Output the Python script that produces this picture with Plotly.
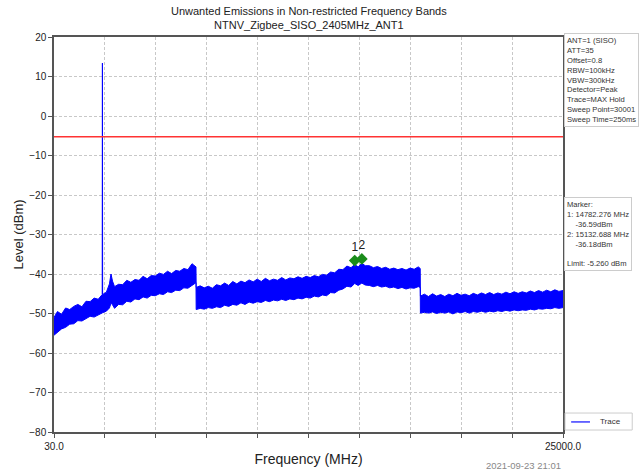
import plotly.graph_objects as go

# ---- spectrum envelope (MAX hold): frequency and the upper / lower edge of the trace ----
freq_mhz = [
    30, 200, 400, 600, 800, 1000, 1200, 1400, 1600, 1800, 2000, 2200, 2395, 2405, 2415,
    2600, 2750, 2826, 2900, 3000, 3200, 3400, 3600, 3800, 4000, 4200, 4400, 4600, 4800,
    5000, 5200, 5400, 5600, 5800, 6000, 6200, 6400, 6600, 6800, 6995,
    7005, 7200, 7400, 7600, 7800, 8000, 8200, 8400, 8600, 8800, 9000, 9200, 9400, 9600,
    9800, 10000, 10200, 10400, 10600, 10800, 11000, 11200, 11400, 11600, 11800, 12000,
    12200, 12400, 12600, 12800, 13000, 13200, 13400, 13600, 13800, 14000, 14200, 14400,
    14600, 14782.276, 14950, 15132.688, 15300, 15500, 15700, 15900, 16100, 16300, 16500,
    16700, 16900, 17100, 17300, 17500, 17700, 17900, 17995,
    18005, 18200, 18400, 18600, 18800, 19000, 19200, 19400, 19600, 19800, 20000, 20200,
    20400, 20600, 20800, 21000, 21200, 21400, 21600, 21800, 22000, 22200, 22400, 22600,
    22800, 23000, 23200, 23400, 23600, 23800, 24000, 24200, 24400, 24600, 24800, 25000,
]
upper_dbm = [
    -51.0, -49.5, -50.2, -48.6, -49.0, -48.2, -47.7, -48.3, -46.9, -47.0, -46.1, -46.4, -45.2, 13.4, -45.2,
    -44.6, -42.5, -40.0, -41.8, -43.2, -42.6, -42.7, -41.6, -42.1, -41.4, -41.6, -40.6, -41.2, -40.4,
    -40.5, -39.8, -40.1, -39.3, -39.9, -39.1, -39.3, -38.6, -38.9, -37.4, -38.2,
    -43.4, -43.0, -43.5, -43.1, -43.6, -42.7, -43.0, -42.3, -42.9, -41.9, -42.5, -41.8, -42.2, -41.5,
    -42.0, -41.3, -41.9, -41.1, -41.7, -41.3, -41.6, -40.9, -41.5, -41.0, -41.2, -40.7,
    -41.1, -40.6, -40.9, -40.4, -40.7, -40.1, -40.3, -39.5, -39.7, -38.8, -38.9, -38.0,
    -38.4, -37.6, -38.2, -37.3, -37.9, -37.9, -38.4, -38.1, -38.6, -38.3, -38.8,
    -38.5, -38.9, -38.6, -39.0, -38.5, -38.8, -38.2, -38.6,
    -45.6, -45.1, -45.7, -45.0, -45.6, -45.2, -45.7, -45.1, -45.5, -44.9, -45.4, -45.1,
    -45.5, -44.9, -45.3, -44.8, -45.2, -44.7, -45.2, -44.8, -45.1, -44.6, -45.0, -44.5,
    -44.9, -44.5, -44.8, -44.3, -44.7, -44.2, -44.6, -44.1, -44.5, -44.0, -44.4, -44.2,
]
lower_dbm = [
    -55.5, -54.8, -53.9, -53.5, -52.7, -52.6, -51.8, -51.9, -51.2, -50.7, -50.9, -50.3, -49.8, -49.8, -49.8,
    -49.4, -48.6, -47.4, -47.8, -48.7, -47.7, -47.8, -46.9, -47.1, -46.3, -46.5, -45.8, -46.1, -45.4,
    -45.5, -45.0, -45.2, -44.5, -44.7, -44.1, -44.2, -43.5, -43.6, -42.8, -42.2,
    -49.0, -48.7, -48.9, -48.5, -48.7, -48.3, -48.5, -47.9, -48.2, -47.7, -47.9, -47.3, -47.7, -47.1,
    -47.4, -47.0, -47.2, -46.7, -47.0, -46.6, -46.8, -46.4, -46.7, -46.3, -46.5, -46.1,
    -46.3, -45.9, -46.1, -45.6, -45.8, -45.3, -45.5, -44.7, -44.8, -44.1, -43.8, -43.1,
    -43.3, -42.4, -42.9, -42.3, -42.8, -42.9, -43.2, -42.9, -43.3, -43.1, -43.5,
    -43.3, -43.7, -43.4, -43.8, -43.5, -43.6, -43.2, -43.4,
    -49.9, -49.7, -49.9, -49.6, -50.0, -49.7, -49.9, -49.6, -50.1, -49.6, -49.8, -49.5,
    -49.9, -49.5, -49.7, -49.4, -49.7, -49.4, -49.6, -49.3, -49.5, -49.2, -49.4, -49.1,
    -49.3, -49.1, -49.2, -48.9, -49.1, -48.8, -48.9, -48.7, -48.8, -48.5, -48.7, -48.5,
]

# ---- markers and limit ----
marker_ids = ["1", "2"]
marker_freq = [14782.276, 15132.688]
marker_level = [-36.59, -36.18]
limit_dbm = -5.260

# ---- axes ----
f_start, f_stop = 30.0, 25000.0
x_tickvals = [30.0, 2527.0, 5024.0, 7521.0, 10018.0, 12515.0, 15012.0, 17509.0, 20006.0, 22503.0, 25000.0]
x_ticktext = ["30.0", "", "", "", "", "", "", "", "", "", "25000.0"]
y_tickvals = [20, 10, 0, -10, -20, -30, -40, -50, -60, -70, -80]

settings = ["ANT=1 (SISO)", "ATT=35", "Offset=0.8", "RBW=100kHz", "VBW=300kHz",
            "Detector=Peak", "Trace=MAX Hold", "Sweep Point=30001", "Sweep Time=250ms"]
timestamp = "2021-09-23 21:01"
trace_name = "Trace"

FONT = "Liberation Sans, Arial, sans-serif"
BLUE = "#0000ff"

fig = go.Figure()

fig.add_trace(go.Scatter(x=freq_mhz, y=lower_dbm, mode="lines", name=trace_name,
                         line=dict(color=BLUE, width=1.0), showlegend=False))
fig.add_trace(go.Scatter(x=freq_mhz, y=upper_dbm, mode="lines", fill="tonexty", name=trace_name,
                         fillcolor=BLUE, line=dict(color=BLUE, width=1.0), showlegend=False))

fig.add_trace(go.Scatter(x=[f_start, f_stop], y=[limit_dbm, limit_dbm], mode="lines",
                         line=dict(color="#ff3333", width=1.5), showlegend=False))

fig.add_trace(go.Scatter(x=marker_freq, y=marker_level, mode="markers+text",
                         text=marker_ids, textposition="top center",
                         textfont=dict(size=12, color="#222", family=FONT),
                         marker=dict(symbol="diamond", size=9, color="#1a8c1a"),
                         showlegend=False))

axis_common = dict(showline=True, mirror=True, linecolor="#555", linewidth=1.5,
                   ticks="outside", ticklen=4, tickcolor="#555", tickwidth=1.2,
                   showgrid=True, gridcolor="#c8c8c8", griddash="3px,2px", gridwidth=1,
                   zeroline=False, automargin=False,
                   tickfont=dict(size=10, color="#222", family=FONT))

fig.update_xaxes(range=[f_start, f_stop], tickvals=x_tickvals, ticktext=x_ticktext,
                 title=dict(text="Frequency (MHz)", font=dict(size=14, color="#222", family=FONT),
                            standoff=3),
                 **axis_common)
fig.update_yaxes(range=[-80, 20], tickvals=y_tickvals,
                 title=dict(text="Level (dBm)", font=dict(size=13, color="#222", family=FONT),
                            standoff=3),
                 **axis_common)

marker_lines = ["Marker:"]
for mid, mf, ml in zip(marker_ids, marker_freq, marker_level):
    marker_lines.append(f"{mid}: {mf:.3f} MHz")
    marker_lines.append("\u00a0\u00a0\u00a0\u00a0" + f"{ml:.2f}dBm")
marker_lines.append("")
marker_lines.append(f"Limit: {limit_dbm:.3f} dBm")

# legend box to the right of the plot, below the marker panel
legend_shapes = [
    dict(type="rect", xref="paper", yref="paper", x0=1.004, x1=1.136, y0=0.005, y1=0.048,
         line=dict(color="#cccccc", width=1), fillcolor="white", layer="above"),
    dict(type="line", xref="paper", yref="paper", x0=1.016, x1=1.053, y0=0.0255, y1=0.0255,
         line=dict(color="#3c3cff", width=1.5), layer="above"),
]

fig.update_layout(
    width=639, height=473, autosize=False,
    margin=dict(l=54, r=76, t=37, b=41, autoexpand=False),
    paper_bgcolor="white", plot_bgcolor="white",
    font=dict(family=FONT, color="#222"),
    showlegend=False,
    shapes=legend_shapes,
    annotations=[
        dict(text="Unwanted Emissions in Non-restricted Frequency Bands<br>NTNV_Zigbee_SISO_2405MHz_ANT1",
             xref="paper", yref="paper", x=0.5, y=1.0, xanchor="center", yanchor="bottom",
             yshift=4, showarrow=False, font=dict(size=11, color="#222", family=FONT)),
        dict(text="<br>".join(settings), xref="paper", yref="paper", x=1.0, y=1.01,
             xanchor="left", yanchor="top", align="left", showarrow=False, xshift=1,
             bordercolor="#cccccc", borderwidth=1, borderpad=2, bgcolor="white",
             font=dict(size=7.6, color="#333", family=FONT)),
        dict(text="<br>".join(marker_lines), xref="paper", yref="paper", x=1.0, y=0.595,
             xanchor="left", yanchor="top", align="left", showarrow=False, xshift=1,
             bordercolor="#cccccc", borderwidth=1, borderpad=2, bgcolor="white",
             font=dict(size=7.6, color="#333", family=FONT)),
        dict(text=trace_name, xref="paper", yref="paper", x=1.069, y=0.0255,
             xanchor="left", yanchor="middle", showarrow=False,
             font=dict(size=8, color="#333", family=FONT)),
        dict(text=timestamp, xref="paper", yref="paper", x=1.0, y=-0.086,
             xanchor="right", yanchor="middle", showarrow=False,
             font=dict(size=9.5, color="#888", family=FONT)),
    ],
)

fig.write_html("out.html")
